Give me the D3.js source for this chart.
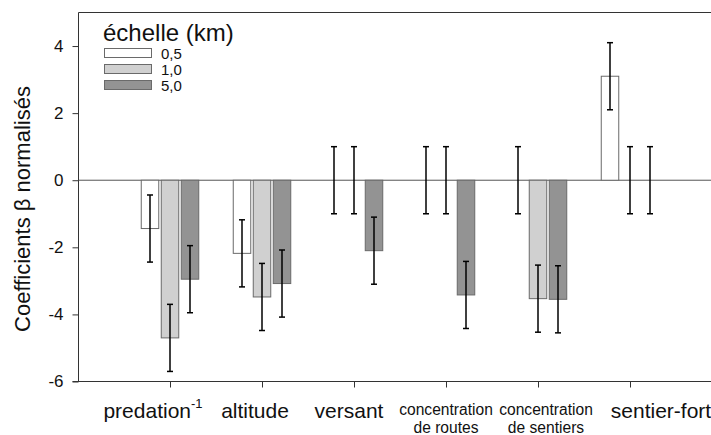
<!DOCTYPE html>
<html>
<head>
<meta charset="utf-8">
<script src="https://cdn.jsdelivr.net/npm/d3@7"></script>
<style>
  html, body { margin: 0; padding: 0; background: #fff; }
  svg { display: block; font-family: "Liberation Sans", Arial, Helvetica, sans-serif; }
</style>
</head>
<body>
<svg id="chart" width="711" height="435"></svg>
<script>
// Variables explicatives (groupes de barres)
const categories = ["predation", "altitude", "versant", "concentration de routes", "concentration de sentiers", "sentier-fort"];
// Échelles spatiales (séries)
const scales = ["0,5", "1,0", "5,0"];
// Coefficients β normalisés par échelle
const beta05 = [-1.44, -2.18, 0, 0, 0, 3.10];
const beta10 = [-4.70, -3.48, 0, 0, -3.53, 0];
const beta50 = [-2.95, -3.08, -2.10, -3.42, -3.55, 0];
// Erreurs types
const se05 = [1, 1, 1, 1, 1, 1];
const se10 = [1, 1, 1, 1, 1, 1];
const se50 = [1, 1, 1, 1, 1, 1];
// Graduations de l'axe y
const yTicks = [-6, -4, -2, 0, 2, 4];

// Mise en page
const W = 711, H = 435;
const plotLeft = 78.5, plotTop = 12.5, plotBottom = 381.5;
const fills = ["#ffffff", "#d0d0d0", "#939393"];
const labelShift = [-17, -7, -5, 0, 8, 31];

const values = [beta05, beta10, beta50];
const errors = [se05, se10, se50];

const svg = d3.select("#chart");

const y = d3.scaleLinear().domain([-6, 5]).range([plotBottom, plotTop]);
const x = d3.scalePoint().domain(categories).range([78, 722]).padding(1);
const xi = d3.scaleBand().domain(scales).range([-28.75, 28.75]).paddingInner(0.125);

// Cadre : ligne du haut
svg.append("line")
  .attr("x1", plotLeft).attr("x2", W).attr("y1", plotTop).attr("y2", plotTop)
  .attr("stroke", "#333").attr("stroke-width", 1);

// Axe y
const yAxis = svg.append("g")
  .attr("transform", `translate(${plotLeft},0)`)
  .call(d3.axisLeft(y).tickValues(yTicks).tickSize(6).tickPadding(9).tickFormat(d3.format("d")));
yAxis.select(".domain").attr("d", `M0,${plotBottom}V${plotTop}`).attr("stroke", "#333");
yAxis.selectAll(".tick line").attr("stroke", "#333");
yAxis.selectAll(".tick text")
  .attr("font-size", 17).attr("fill", "#111")
  .attr("font-family", "Liberation Sans, Arial, sans-serif")
  .text(d => d < 0 ? "-" + Math.abs(d) : d);

// Axe x
const xAxis = svg.append("g")
  .attr("transform", `translate(0,${plotBottom})`)
  .call(d3.axisBottom(x).tickSize(6).tickFormat(""));
xAxis.select(".domain").attr("d", `M${plotLeft - 6},0H${W}`).attr("stroke", "#333");
xAxis.selectAll(".tick line").attr("stroke", "#333");

// Ligne du zéro
svg.append("line")
  .attr("x1", plotLeft).attr("x2", W).attr("y1", y(0)).attr("y2", y(0))
  .attr("stroke", "#555").attr("stroke-width", 1);

// Barres
const rows = [];
categories.forEach((c, i) => {
  scales.forEach((s, j) => {
    rows.push({ c, s, j, v: values[j][i], e: errors[j][i] });
  });
});

svg.append("g").selectAll("rect")
  .data(rows.filter(d => d.v !== 0))
  .join("rect")
  .attr("x", d => x(d.c) + xi(d.s))
  .attr("width", xi.bandwidth())
  .attr("y", d => y(Math.max(0, d.v)))
  .attr("height", d => Math.abs(y(d.v) - y(0)))
  .attr("fill", d => fills[d.j])
  .attr("stroke", "#6a6a6a")
  .attr("stroke-width", 1);

// Barres d'erreur
const eb = svg.append("g").attr("stroke", "#000").attr("stroke-width", 1.5);
rows.forEach(d => {
  const cx = x(d.c) + xi(d.s) + xi.bandwidth() / 2;
  const y1 = y(d.v + d.e), y2 = y(d.v - d.e);
  eb.append("line").attr("x1", cx).attr("x2", cx).attr("y1", y1).attr("y2", y2);
  eb.append("line").attr("x1", cx - 3).attr("x2", cx + 3).attr("y1", y1).attr("y2", y1);
  eb.append("line").attr("x1", cx - 3).attr("x2", cx + 3).attr("y1", y2).attr("y2", y2);
});

// Étiquettes des catégories
const lab = svg.append("g").attr("fill", "#111").attr("text-anchor", "middle");
categories.forEach((c, i) => {
  const cx = x(c) + labelShift[i];
  if (c === "predation") {
    const t = lab.append("text").attr("x", cx).attr("y", 418).attr("font-size", 21);
    t.append("tspan").text("predation");
    t.append("tspan").attr("font-size", 13).attr("dy", -10).text("-1");
  } else if (c.startsWith("concentration")) {
    const parts = [c.slice(0, 13), c.slice(14)];
    lab.append("text").attr("x", cx).attr("y", 415).attr("font-size", 15.6).text(parts[0]);
    lab.append("text").attr("x", cx).attr("y", 433).attr("font-size", 15.6).text(parts[1]);
  } else {
    lab.append("text").attr("x", cx).attr("y", 418).attr("font-size", 21).text(c);
  }
});

// Titre de l'axe y
svg.append("text")
  .attr("transform", `translate(30,209) rotate(-90)`)
  .attr("text-anchor", "middle")
  .attr("font-size", 22)
  .attr("fill", "#111")
  .text("Coefficients β normalisés");

// Légende
const lg = svg.append("g");
lg.append("text").attr("x", 103).attr("y", 41).attr("font-size", 24).attr("fill", "#111").text("échelle (km)");
scales.forEach((s, j) => {
  const yy = 48 + j * 16;
  lg.append("rect").attr("x", 104.5).attr("y", yy + 0.5).attr("width", 47).attr("height", 9)
    .attr("fill", fills[j]).attr("stroke", "#6a6a6a");
  lg.append("text").attr("x", 161).attr("y", yy + 10.5).attr("font-size", 15).attr("fill", "#111").text(s);
});
</script>
</body>
</html>
